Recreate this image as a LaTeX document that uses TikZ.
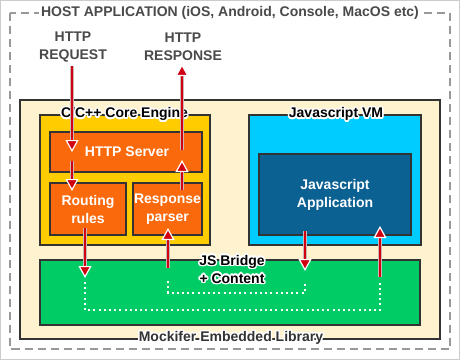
\documentclass[tikz,border=0pt]{standalone}
\usepackage{fontspec}
\setmainfont{Liberation Sans}
\usepackage[copies]{contour}
\contourlength{1.4pt}
\contournumber{20}
\usetikzlibrary{arrows.meta}

\definecolor{frame}{HTML}{CCCCCC}
\definecolor{hostdash}{HTML}{999999}
\definecolor{hosttext}{HTML}{4A4A4A}
\definecolor{cream}{HTML}{FFF2CF}
\definecolor{coreyellow}{HTML}{FFCC00}
\definecolor{srvorange}{HTML}{FA6A0C}
\definecolor{vmcyan}{HTML}{00CCFF}
\definecolor{appblue}{HTML}{0C6193}
\definecolor{bridgegreen}{HTML}{00CC66}
\definecolor{edge}{HTML}{333333}
\definecolor{arrowred}{HTML}{D00010}
\definecolor{shaftrim}{HTML}{C8B8B8}

\tikzset{
  txt/.style={font=\bfseries\fontsize{14}{18}\selectfont, align=center, inner sep=1pt},
  box/.style={draw=edge, line width=2pt},
  innerlabel/.style={txt, text=white},
  flow/.style={draw=arrowred, line width=2pt,
    -{Triangle[length=12pt,width=13pt,color=white,fill=arrowred,line width=1.2pt]},
    preaction={draw=shaftrim, line width=4pt, -{}, shorten >=11pt}},
  dots/.style={draw=white, line width=2pt, dash pattern=on 2pt off 3.2pt}
}

\begin{document}
\begin{tikzpicture}[x=1pt,y=-1pt]
\useasboundingbox (0,0) rectangle (460,360);
\fill[white] (0,0) rectangle (460,360);
\draw[frame, line width=1pt] (0.5,0.5) rectangle (459.5,359.5);

% host application frame
\draw[hostdash, line width=2pt, dash pattern=on 8pt off 5pt] (10,12.5) rectangle (450,349);
\node[txt, text=hosttext, fill=white, inner sep=2pt] (host) at (230,12.5)
  {HOST APPLICATION (iOS, Android, Console, MacOS etc)};

\node[txt, text=hosttext] (req) at (73,47) {HTTP\\REQUEST};
\node[txt, text=hosttext] (resp) at (183,47) {HTTP\\RESPONSE};

% embedded library
\draw[box, fill=cream] (20,100) rectangle (440,339);
\node[txt, text=edge] (lib) at (231,338.5) {\contour{white}{Mockifer Embedded Library}};

% core engine
\draw[box, fill=coreyellow] (40,115) rectangle (210,245);
\draw[box, fill=srvorange] (50,132) rectangle (202,172);
\node[innerlabel] (server) at (127,152) {HTTP Server};
\draw[box, fill=srvorange] (50,183) rectangle (126,235);
\node[innerlabel] (routing) at (88,209) {Routing\\rules};
\draw[box, fill=srvorange] (133,183) rectangle (202,235);
\node[innerlabel] (parser) at (167.5,209) {Response\\parser};
\node[txt, text=black] (core) at (124.5,115) {\contour{white}{C/C++ Core Engine}};

% javascript VM
\draw[box, fill=vmcyan] (249,115) rectangle (421,245);
\draw[box, fill=appblue] (259,154) rectangle (411,235);
\node[innerlabel] (app) at (335,195) {Javascript\\Application};
\node[txt, text=black] (vm) at (336,115) {\contour{white}{Javascript VM}};

% bridge
\draw[box, fill=bridgegreen] (40,260) rectangle (420,325);
\node[txt, text=black] (bridge) at (232,270) {\contour{white}{JS Bridge}\\\contour{white}{+ Content}};

% arrow end points
\coordinate (reqA) at (72,66);   \coordinate (reqB) at (72,152);
\coordinate (rtA) at (72,161);   \coordinate (rtB) at (72,191);
\coordinate (dnA) at (85,228);   \coordinate (dnB) at (85,278);
\coordinate (upA) at (168,268);  \coordinate (upB) at (168,228);
\coordinate (prA) at (182,190);  \coordinate (prB) at (182,160);
\coordinate (rsA) at (182,150);  \coordinate (rsB) at (182,64);
\coordinate (vmA) at (305,231);  \coordinate (vmB) at (305,271);
\coordinate (apA) at (380,277);  \coordinate (apB) at (380,226);

% dotted paths inside the bridge
\draw[dots] (168,281) -- (168,293) -- (305,293) -- (305,281);
\draw[dots] (85,282) -- (85,310) -- (380,310) -- (380,282);

\draw[flow] (reqA) -- (reqB);
\draw[flow] (rtA) -- (rtB);
\draw[flow] (dnA) -- (dnB);
\draw[flow] (upA) -- (upB);
\draw[flow] (prA) -- (prB);
\draw[flow] (rsA) -- (rsB);
\draw[flow] (vmA) -- (vmB);
\draw[flow] (apA) -- (apB);
\end{tikzpicture}
\end{document}
